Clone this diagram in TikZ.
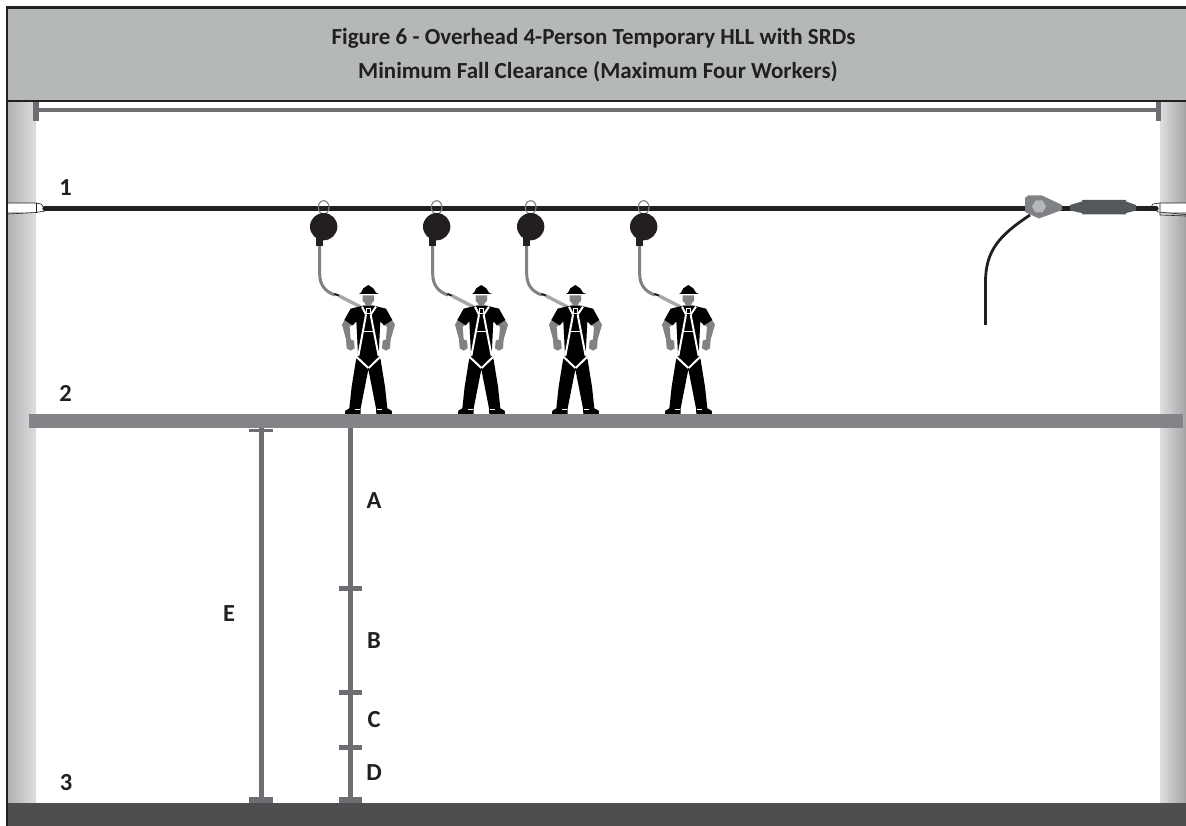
\documentclass[tikz,border=0pt]{standalone}
\usepackage{fontspec}
\setmainfont{Carlito}
\definecolor{band}{HTML}{B5B8B8}
\definecolor{ink}{HTML}{231F20}
\definecolor{plat}{HTML}{828487}
\definecolor{floorc}{HTML}{4D4E50}
\definecolor{dimc}{HTML}{6D6E71}
\definecolor{tens}{HTML}{54585A}
\definecolor{skin}{HTML}{808285}
\definecolor{colL}{HTML}{B0B2B4}
\definecolor{colR}{HTML}{DDDEE0}
\tikzset{
  lbl/.style={font=\bfseries\fontsize{24.5}{24.5}\selectfont,text=ink,inner sep=0pt},
  ttl/.style={font=\bfseries\fontsize{23}{23}\selectfont,text=ink,inner sep=0pt},
  assembly/.pic={
    \begin{scope}[x=0.33333pt,y=-0.33333pt]
      % cable
      \draw[skin,line width=3pt] (119,195) -- (119,280) .. controls (119,315) and (135,335) .. (165,345);
      \draw[ink,line width=2pt] (163,342) -- (178,347);
      \draw[band!70!skin,line width=3.4pt] (178,348) -- (240,380);
      % carabiner
      \draw[skin,line width=1.1pt] (131,82) ellipse (16 and 20);
      % disc
      \fill[ink] (131,140) circle (41);
      \fill[ink] (108,175) rectangle (130,197);
      % hat
      \fill[black] (243,338) -- (250,325) -- (265,315) -- (280,325) -- (288,338) -- (297,342) -- (237,342) -- cycle;
      % head
      \fill[skin] (248,346) -- (282,346) -- (282,362) -- (272,374) -- (292,380) -- (240,380) -- (258,374) -- (248,362) -- cycle;
      % arms
      \fill[skin] (195,418) -- (186,434) -- (198,478) -- (200,505) -- (212,512) -- (224,505) -- (222,482) -- (212,478) -- (209,440) -- (222,432) -- cycle;
      \fill[skin] (335,418) -- (345,434) -- (332,478) -- (330,505) -- (318,512) -- (306,505) -- (308,482) -- (318,478) -- (321,440) -- (308,432) -- cycle;
      % torso and legs
      \fill[black] (245,378) -- (212,386) -- (193,420) -- (218,436) -- (229,424) -- (234,524) -- (228,540) -- (215,620) -- (208,685) -- (196,692) -- (195,702) -- (242,702) -- (242,685) -- (265,568) -- (288,685) -- (289,702) -- (336,702) -- (335,692) -- (322,685) -- (315,620) -- (302,540) -- (296,524) -- (301,424) -- (312,436) -- (337,420) -- (318,386) -- (285,378) -- cycle;
      % harness
      \begin{scope}[white,line width=2pt]
        \draw (246,380) -- (258,404);
        \draw (288,380) -- (272,404);
        \draw (258,404) -- (235,528);
        \draw (272,404) -- (296,528);
        \draw (229,530) -- (265,564);
        \draw (301,530) -- (266,564);
        \draw[line width=1.6pt] (252,455) -- (279,455);
        \draw[line width=.5pt] (225,688) -- (240,688);
        \draw[line width=.5pt] (290,688) -- (305,688);
        \draw[line width=.8pt] (258,386) rectangle (272,400);
      \end{scope}
    \end{scope}
  }
}
\begin{document}
\begin{tikzpicture}[x=1pt,y=-1pt]
\useasboundingbox (0,0) rectangle (1186,826);
\fill[white] (0,0) rectangle (1186,826);
% columns
\shade[left color=colL,right color=colR] (8,100) rectangle (36,805);
\shade[left color=colR,right color=colL!92!black] (1160,100) rectangle (1186,805);
% header band
\fill[band] (8,8) rectangle (1186,100);
\draw[ink,line width=2.4pt] (6,7.5) -- (1186,7.5);
\draw[ink,line width=2.4pt] (8,101) -- (1186,101);
\draw[ink,line width=2.2pt] (7,7) -- (7,826);
\node[ttl] (t1) at (593.5,38) {Figure 6 - Overhead 4-Person Temporary HLL with SRDs};
\node[ttl] (t2) at (598,72) {Minimum Fall Clearance (Maximum Four Workers)};
% top bracket
\fill[dimc] (33,108) rectangle (1161,112.5);
\fill[dimc] (33,102) rectangle (39,121);
\fill[dimc] (1156,102) rectangle (1161,121);
% anchors
\begin{scope}[line width=.6pt,draw=ink]
  \fill[white] (8,203) rectangle (36,212);
  \draw (8,203) -- (36,203) -- (41,204) -- (45,209) -- (45,211) -- (36,212.5) -- (8,214);
  \draw (36,203) -- (36,213);
  \fill[white] (1160,203) rectangle (1186,212);
  \draw (1186,203) -- (1160,203) -- (1153,204) -- (1151,207) -- (1158,212) -- (1186,214.5);
  \draw (1160,203) -- (1160,215) -- (1186,216);
\end{scope}
% rope
\draw[ink,line width=5.4pt,line cap=round] (45,208.5) -- (1156,208.5);
% tail
\coordinate (tailA) at (1030,215);
\coordinate (tailB) at (985.5,325);
\draw[ink,line width=2.8pt] (tailA) .. controls (1000,235) and (985.5,250) .. (985.5,282) -- (tailB);
% adjuster
\fill[skin] (1025,198) -- (1028,195.5) -- (1042,195.5) -- (1062,205) -- (1062,210) -- (1039,218.5) -- (1025,212) -- cycle;
\fill[band] (1039,206.5) +(7,0) -- +(3.5,6) -- +(-3.5,6) -- +(-7,0) -- +(-3.5,-6) -- +(3.5,-6) -- cycle;
\fill[tens] (1070,205) -- (1082,201.5) -- (1082,200) -- (1126,200) -- (1126,201.5) -- (1136,205) -- (1136,210.5) -- (1126,213) -- (1126,214.5) -- (1082,214.5) -- (1082,213) -- (1070,210.5) -- cycle;
% workers
\pic at (280,180) {assembly};
\pic at (393,180) {assembly};
\pic at (487,180) {assembly};
\pic at (600,180) {assembly};
% platform, floor
\fill[plat] (29,414) rectangle (1183,428);
\fill[floorc] (8,803) rectangle (1186,826);
% dimensions
\coordinate (Et) at (261,428);
\coordinate (Eb) at (261,803);
\coordinate (At) at (350.5,428);
\coordinate (Ab) at (350.5,803);
\draw[dimc,line width=5pt] (Et) -- (Eb);
\draw[dimc,line width=5pt] (At) -- (Ab);
\fill[dimc] (249,428.5) rectangle (273,431.5);
\fill[dimc] (249,797) rectangle (273,803);
\fill[dimc] (339,797) rectangle (362,803);
\fill[dimc] (339,585.5) rectangle (362,590.5);
\fill[dimc] (339,689.5) rectangle (362,694.5);
\fill[dimc] (339,745) rectangle (362,750);
% labels
\node[lbl] (n1) at (65.5,188) {1};
\node[lbl] (n2) at (65.5,393) {2};
\node[lbl] (n3) at (66,783) {3};
\node[lbl] (la) at (374,501) {A};
\node[lbl] (lb) at (374,641) {B};
\node[lbl] (lc) at (374,720) {C};
\node[lbl] (ld) at (374,773) {D};
\node[lbl] (le) at (229,614) {E};
\end{tikzpicture}
\end{document}
